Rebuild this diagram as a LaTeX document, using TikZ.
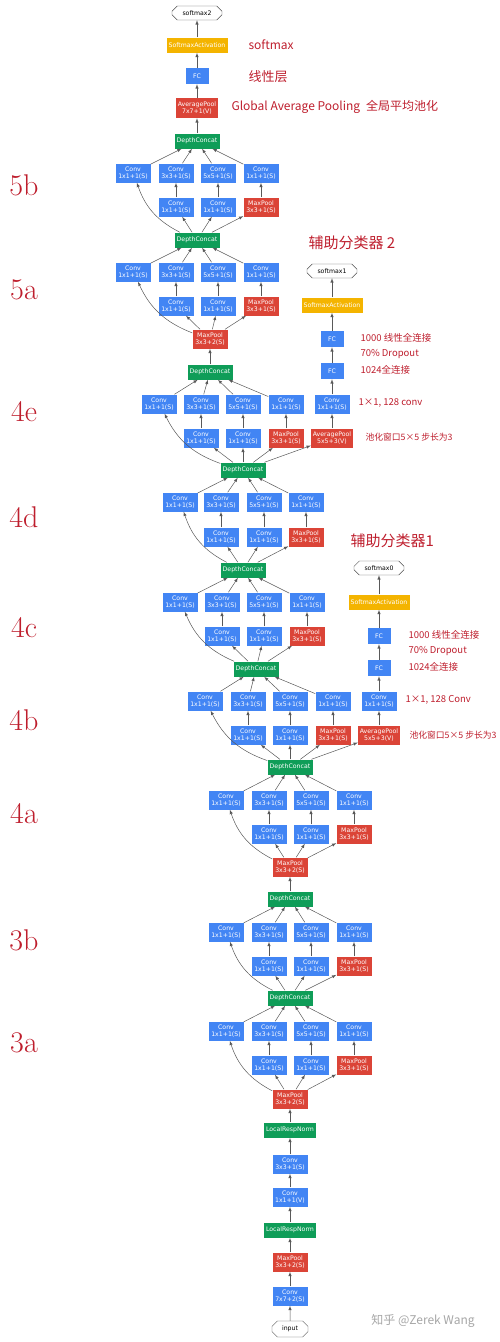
\documentclass[tikz,border=0pt]{standalone}
\usepackage{fontspec}
\setsansfont{DejaVu Sans}
\newfontfamily\cjk{Noto Sans CJK SC}
\usepackage{tikz}
\usetikzlibrary{shapes.misc}

\definecolor{gblue}{RGB}{66,133,244}
\definecolor{gred}{RGB}{219,68,55}
\definecolor{ggreen}{RGB}{15,157,88}
\definecolor{gyellow}{RGB}{244,180,0}
\definecolor{ink}{RGB}{190,30,45}

\begin{document}
\begin{tikzpicture}[x=1pt, y=-1pt,
  box/.style={text=white, align=center, inner sep=0.5pt, font=\sffamily\fontsize{6.2}{7.2}\selectfont},
  conv/.style={box, fill=gblue, minimum width=35pt, minimum height=19pt},
  fc/.style={box, fill=gblue, minimum width=23pt, minimum height=16pt},
  pool/.style={box, fill=gred, minimum width=35pt, minimum height=19pt},
  avgpool/.style={box, fill=gred, minimum width=42pt, minimum height=19pt},
  concat/.style={box, fill=ggreen, minimum width=45pt, minimum height=15pt},
  lrn/.style={box, fill=ggreen, minimum width=52pt, minimum height=15pt},
  smact/.style={box, fill=gyellow, minimum width=61pt, minimum height=15pt},
  octa/.style={draw=black!70, line width=0.4pt, chamfered rectangle, chamfered rectangle xsep=2.5pt,
    inner sep=0pt, minimum width=50pt, minimum height=14pt, font=\sffamily\fontsize{6.2}{7.2}\selectfont},
  edge/.style={draw=black!65, line width=0.5pt, -latex},
  note/.style={text=ink, anchor=west, font=\cjk\fontsize{9.5}{11}\selectfont},
  layer/.style={text=ink, font=\fontsize{30}{30}\selectfont}
]

\useasboundingbox (0,0) rectangle (500,1342);

% stem
\node [octa, minimum width=36pt, minimum height=16pt] (input) at (290,1329) {input};
\node [conv] (c1) at (290,1296) {Conv\\7x7+2(S)};
\node [pool] (p1) at (290,1262) {MaxPool\\3x3+2(S)};
\node [lrn] (n1) at (290,1230) {LocalRespNorm};
\node [conv] (c2) at (290,1197) {Conv\\1x1+1(V)};
\node [conv] (c3) at (290,1164) {Conv\\3x3+1(S)};
\node [lrn] (n2) at (290,1130) {LocalRespNorm};
\node [pool] (p2) at (290,1099) {MaxPool\\3x3+2(S)};
\node [pool] (p3) at (290,867) {MaxPool\\3x3+2(S)};
\node [pool] (p4) at (210,339) {MaxPool\\3x3+2(S)};

\draw [edge] (input) -- (c1);
\draw [edge] (c1) -- (p1);
\draw [edge] (p1) -- (n1);
\draw [edge] (n1) -- (c2);
\draw [edge] (c2) -- (c3);
\draw [edge] (c3) -- (n2);
\draw [edge] (n2) -- (p2);

% inception modules
\foreach \m/\xa/\xb/\xc/\xd/\ya/\yb/\src/\ox/\oy in {
  3a/226/269/311/354/1031/1065/p2/290/998,
  3b/226/269/311/354/932/966/3a-out/290/899,
  4a/226/269/311/354/800/834/p3/290/767,
  4b/205/248/290/333/701/735/4a-out/256/669,
  4c/180/222/264/307/602/636/4b-out/243/570,
  4d/180/221/264/306/502/537/4c-out/243/470,
  4e/159/201/243/286/404/438/4d-out/210/372,
  5a/133/176/218/261/272/306/p4/197/240,
  5b/133/176/218/261/173/207/5a-out/197/141}
{
  \node [conv] (\m-c1) at (\xa,\ya) {Conv\\1x1+1(S)};
  \node [conv] (\m-c2) at (\xb,\ya) {Conv\\3x3+1(S)};
  \node [conv] (\m-c3) at (\xc,\ya) {Conv\\5x5+1(S)};
  \node [conv] (\m-c4) at (\xd,\ya) {Conv\\1x1+1(S)};
  \node [conv] (\m-r2) at (\xb,\yb) {Conv\\1x1+1(S)};
  \node [conv] (\m-r3) at (\xc,\yb) {Conv\\1x1+1(S)};
  \node [pool] (\m-r4) at (\xd,\yb) {MaxPool\\3x3+1(S)};
  \node [concat] (\m-out) at (\ox,\oy) {DepthConcat};

  \draw [edge] (\src) to [bend left=22] (\m-c1);
  \draw [edge] (\src) -- (\m-r2);
  \draw [edge] (\src) -- (\m-r3);
  \draw [edge] (\src) -- (\m-r4);
  \draw [edge] (\m-r2) -- (\m-c2);
  \draw [edge] (\m-r3) -- (\m-c3);
  \draw [edge] (\m-r4) -- (\m-c4);
  \draw [edge] (\m-c1) -- (\m-out);
  \draw [edge] (\m-c2) -- (\m-out);
  \draw [edge] (\m-c3) -- (\m-out);
  \draw [edge] (\m-c4) -- (\m-out);
}

\draw [edge] (3b-out) -- (p3);
\draw [edge] (4e-out) -- (p4);

% head
\node [avgpool, minimum height=20pt] (gap) at (197,108) {AveragePool\\7x7+1(V)};
\node [fc] (fc) at (197,76) {FC};
\node [smact] (smax) at (197,45) {SoftmaxActivation};
\node [octa] (softmax2) at (197,13) {softmax2};
\draw [edge] (5b-out) -- (gap);
\draw [edge] (gap) -- (fc);
\draw [edge] (fc) -- (smax);
\draw [edge] (smax) -- (softmax2);

% auxiliary classifier 1
\node [avgpool] (a1p) at (379,735) {AveragePool\\5x5+3(V)};
\node [conv] (a1c) at (379,701) {Conv\\1x1+1(S)};
\node [fc] (a1f1) at (379,668) {FC};
\node [fc] (a1f2) at (379,636) {FC};
\node [smact] (a1s) at (379,602) {SoftmaxActivation};
\node [octa] (softmax0) at (379,568) {softmax0};
\draw [edge] (4a-out) -- (a1p);
\draw [edge] (a1p) -- (a1c);
\draw [edge] (a1c) -- (a1f1);
\draw [edge] (a1f1) -- (a1f2);
\draw [edge] (a1f2) -- (a1s);
\draw [edge] (a1s) -- (softmax0);

% auxiliary classifier 2
\node [avgpool] (a2p) at (332,438) {AveragePool\\5x5+3(V)};
\node [conv] (a2c) at (332,404) {Conv\\1x1+1(S)};
\node [fc] (a2f1) at (332,371) {FC};
\node [fc] (a2f2) at (332,339) {FC};
\node [smact] (a2s) at (332,305) {SoftmaxActivation};
\node [octa] (softmax1) at (332,271) {softmax1};
\draw [edge] (4d-out) -- (a2p);
\draw [edge] (a2p) -- (a2c);
\draw [edge] (a2c) -- (a2f1);
\draw [edge] (a2f1) -- (a2f2);
\draw [edge] (a2f2) -- (a2s);
\draw [edge] (a2s) -- (softmax1);

% handwritten notes
\foreach \t/\y in {5b/185, 5a/290, 4e/412, 4d/517, 4c/628, 4b/720, 4a/814, 3b/940, 3a/1043}
  \node [layer] (lab\t) at (24,\y) {\t};

\node [note, font=\cjk\fontsize{12}{14}\selectfont] (tsm) at (245,45) {softmax};
\node [note, font=\cjk\fontsize{13}{14}\selectfont] (tfc) at (245,77) {线性层};
\node [note, font=\cjk\fontsize{12}{14}\selectfont] (tgap) at (228,107) {Global Average Pooling\enspace 全局平均池化};

\node [note, font=\cjk\fontsize{15}{16}\selectfont] (taux2) at (305,243) {辅助分类器 2};
\node [note] (t2a) at (357,338) {1000 线性全连接};
\node [note] (t2b) at (357,354) {70\% Dropout};
\node [note] (t2c) at (357,370) {1024全连接};
\node [note] (t2d) at (355,403) {1×1, 128 conv};
\node [note, font=\cjk\fontsize{8.8}{10}\selectfont] (t2e) at (362,437) {池化窗口5×5 步长为3};

\node [note, font=\cjk\fontsize{15}{16}\selectfont] (taux1) at (347,541) {辅助分类器1};
\node [note] (t1a) at (405,635) {1000 线性全连接};
\node [note] (t1b) at (405,651) {70\% Dropout};
\node [note] (t1c) at (405,667) {1024全连接};
\node [note] (t1d) at (402,700) {1×1, 128 Conv};
\node [note, font=\cjk\fontsize{8.8}{10}\selectfont] (t1e) at (406,735) {池化窗口5×5 步长为3};

\node [text=black!35, font=\cjk\fontsize{12}{14}\selectfont] (mark) at (423,1321) {知乎 @Zerek Wang};

\end{tikzpicture}
\end{document}
